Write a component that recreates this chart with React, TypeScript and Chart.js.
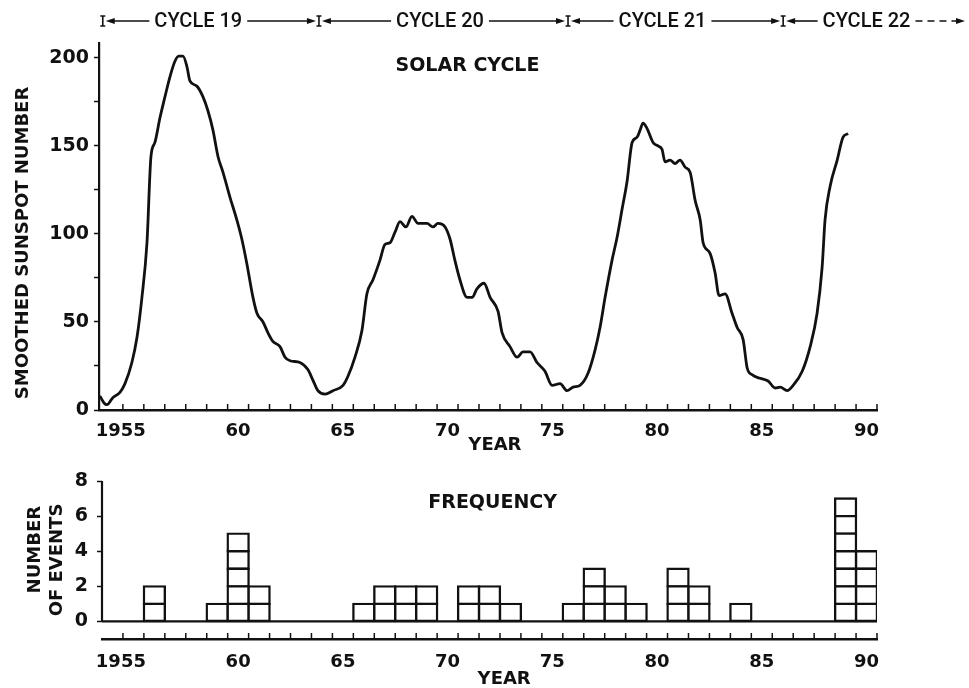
import React, { useEffect, useRef } from 'react';
import { Chart, registerables } from 'chart.js';

Chart.register(...registerables);

// ---------- DATA ----------
const sunspotYears = [
  1953.40, 1953.60, 1953.74, 1954.02, 1954.36, 1954.60, 1954.93, 1955.17, 1955.41, 1955.65,
  1955.84, 1956.03, 1956.27, 1956.51, 1956.74, 1956.98, 1957.17, 1957.37, 1957.56, 1957.70,
  1958.03, 1958.32, 1958.56, 1958.80, 1959.04, 1959.28, 1959.61, 1959.94, 1960.18, 1960.42,
  1960.71, 1960.90, 1961.19, 1961.42, 1961.66, 1962.00, 1962.24, 1962.48, 1962.95, 1963.33,
  1963.57, 1963.81, 1964.15, 1964.53, 1965.01, 1965.24, 1965.58, 1965.91, 1966.15, 1966.44,
  1966.77, 1967.01, 1967.25, 1967.49, 1967.73, 1968.01, 1968.30, 1968.59, 1969.02, 1969.30,
  1969.54, 1969.88, 1970.12, 1970.35, 1970.59, 1970.93, 1971.17, 1971.41, 1971.74, 1972.03,
  1972.41, 1972.60, 1972.98, 1973.32, 1973.60, 1973.94, 1974.27, 1974.65, 1974.99, 1975.37,
  1975.70, 1975.99, 1976.32, 1976.71, 1977.04, 1977.28, 1977.52, 1977.85, 1978.09, 1978.33,
  1978.57, 1978.81, 1979.05, 1979.19, 1979.33, 1979.52, 1979.81, 1980.05, 1980.24, 1980.38,
  1980.62, 1980.86, 1981.10, 1981.34, 1981.58, 1981.82, 1982.06, 1982.20, 1982.53, 1982.77,
  1982.96, 1983.25, 1983.58, 1983.82, 1984.11, 1984.30, 1984.54, 1984.92, 1985.30, 1985.64,
  1985.88, 1986.21, 1986.50, 1986.93, 1987.31, 1987.64, 1987.88, 1988.02, 1988.26, 1988.60,
  1988.88, 1989.12,
];
const sunspotValues = [
  8, 4, 3, 7, 10, 15, 27, 41, 64, 95,
  144, 152, 166, 178, 189, 198, 201, 201, 195, 187,
  184, 178, 170, 159, 144, 135, 121, 108, 97, 83,
  64, 55, 50, 44, 39, 36, 30, 28, 27, 23,
  17, 11, 9, 11, 14, 19, 30, 45, 66, 74,
  85, 94, 95, 101, 107, 104, 110, 106, 106, 104,
  106, 104, 97, 85, 74, 64, 64, 69, 72, 64,
  56, 44, 36, 30, 33, 33, 27, 22, 14, 15,
  11, 13, 14, 21, 34, 47, 64, 85, 98, 114,
  130, 152, 155, 159, 163, 160, 152, 150, 148, 141,
  142, 140, 142, 138, 135, 119, 108, 95, 89, 78,
  65, 66, 55, 47, 40, 24, 20, 18, 16.5, 12.5,
  13, 11, 14, 22, 36, 55, 81, 108, 127, 142,
  155, 157,
];

const eventYears = [1956, 1959, 1960, 1961, 1966, 1967, 1968, 1969, 1971, 1972, 1973,
  1976, 1977, 1978, 1979, 1981, 1982, 1984, 1989, 1990];
const eventCounts = [2, 1, 5, 2, 1, 2, 2, 2, 2, 2, 1,
  1, 3, 2, 1, 3, 2, 1, 7, 4];

const yearTicks = [1955, 1960, 1965, 1970, 1975, 1980, 1985, 1990];
const sunspotTicks = [0, 25, 50, 75, 100, 125, 150, 175, 200];
const sunspotLabelled = [0, 50, 100, 150, 200];
const eventTicks = [0, 2, 4, 6, 8];

const cycleNames = ['CYCLE 19', 'CYCLE 20', 'CYCLE 21', 'CYCLE 22'];
const cycleStartYears = [1953.54, 1963.86, 1975.75, 1986.02];
const cycleLabelYears = [1958.1, 1969.64, 1980.26, 1990.0];
const cycleEndYear = 1994.7;

const topTitle = 'SOLAR CYCLE';
const bottomTitle = 'FREQUENCY';
const xTitle = 'YEAR';
const topYTitle = 'SMOOTHED SUNSPOT NUMBER';
const bottomYTitle = ['NUMBER', 'OF EVENTS'];

// ---------- STYLE ----------
const INK = '#111';
const FONT = 'DejaVu Sans';
const firstMinorTick = 1954.5;

const yearLabel = (v: number) => (v === 1955 ? '1955    ' : String(v % 100));

function drawText(ctx: CanvasRenderingContext2D, s: string, x: number, y: number, font: string, rot = 0) {
  ctx.save();
  ctx.translate(x, y);
  if (rot) ctx.rotate(rot);
  ctx.font = font;
  ctx.fillStyle = INK;
  ctx.textAlign = 'center';
  ctx.textBaseline = 'middle';
  ctx.fillText(s, 0, 0);
  ctx.restore();
}

function drawMinorTicks(chart: any) {
  const { ctx, chartArea, scales } = chart;
  const x = scales.x;
  ctx.save();
  ctx.strokeStyle = INK;
  ctx.lineWidth = 1.5;
  for (let v = firstMinorTick; v <= x.max + 1e-6; v += 1) {
    const p = x.getPixelForValue(v);
    ctx.beginPath();
    ctx.moveTo(p, chartArea.bottom);
    ctx.lineTo(p, chartArea.bottom - 6);
    ctx.stroke();
  }
  ctx.restore();
}

function arrowLine(ctx: CanvasRenderingContext2D, from: number, to: number, y: number, dashed: boolean) {
  const dir = Math.sign(to - from) || 1;
  ctx.save();
  if (dashed) ctx.setLineDash([7, 5]);
  ctx.beginPath();
  ctx.moveTo(from, y);
  ctx.lineTo(to - dir * 6, y);
  ctx.stroke();
  ctx.restore();
  ctx.beginPath();
  ctx.moveTo(to, y);
  ctx.lineTo(to - dir * 9, y - 3);
  ctx.lineTo(to - dir * 9, y + 3);
  ctx.closePath();
  ctx.fill();
}

function drawHeader(chart: any) {
  const { ctx, chartArea, scales } = chart;
  const x = scales.x;
  const y = chartArea.top - 22;
  ctx.save();
  ctx.font = `500 20px Roboto`;
  ctx.strokeStyle = INK;
  ctx.fillStyle = INK;
  ctx.lineWidth = 1.6;
  cycleNames.forEach((name, i) => {
    const last = i === cycleNames.length - 1;
    const s = x.getPixelForValue(cycleStartYears[i]);
    const e = x.getPixelForValue(last ? cycleEndYear : cycleStartYears[i + 1]);
    const c = x.getPixelForValue(cycleLabelYears[i]);
    const w = ctx.measureText(name).width;
    // I-shaped boundary marker
    ctx.beginPath();
    ctx.moveTo(s, y - 5); ctx.lineTo(s, y + 5);
    ctx.moveTo(s - 2.5, y - 5); ctx.lineTo(s + 2.5, y - 5);
    ctx.moveTo(s - 2.5, y + 5); ctx.lineTo(s + 2.5, y + 5);
    ctx.stroke();
    arrowLine(ctx, c - w / 2 - 5, s + 3, y, false);
    arrowLine(ctx, c + w / 2 + 5, last ? e : e - 3, y, last);
    ctx.textAlign = 'center';
    ctx.textBaseline = 'middle';
    ctx.fillText(name, c, y + 1);
  });
  ctx.restore();
}

const topDecor = {
  id: 'topDecor',
  afterDraw(chart: any) {
    const { ctx, chartArea, scales } = chart;
    const { x, y } = scales;
    drawMinorTicks(chart);
    drawHeader(chart);
    drawText(ctx, topTitle, x.getPixelForValue(1970.95), y.getPixelForValue(195.5), `bold 19px "${FONT}"`);
    drawText(ctx, xTitle, x.getPixelForValue(1972.26), chartArea.bottom + 35, `bold 18px "${FONT}"`);
    drawText(ctx, topYTitle, chartArea.left - 75.5, y.getPixelForValue(94.9), `bold 18px "${FONT}"`, -Math.PI / 2);
  },
};

const bottomDecor = {
  id: 'bottomDecor',
  afterDraw(chart: any) {
    const { ctx, chartArea, scales } = chart;
    const { x, y } = scales;
    ctx.save();
    ctx.strokeStyle = INK;
    ctx.lineWidth = 2.2;
    const y0 = y.getPixelForValue(0);
    ctx.beginPath();
    ctx.moveTo(chartArea.left, y.getPixelForValue(eventTicks[eventTicks.length - 1]));
    ctx.lineTo(chartArea.left, y0);
    ctx.stroke();
    ctx.beginPath();
    ctx.moveTo(chartArea.left, y0);
    ctx.lineTo(chartArea.right, y0);
    ctx.stroke();
    ctx.restore();
    drawMinorTicks(chart);
    drawText(ctx, bottomTitle, x.getPixelForValue(1972.15), y.getPixelForValue(6.77), `bold 19px "${FONT}"`);
    drawText(ctx, xTitle, x.getPixelForValue(1972.7), chartArea.bottom + 40.5, `bold 18px "${FONT}"`);
    drawText(ctx, bottomYTitle[0], chartArea.left - 66.5, y.getPixelForValue(4.09), `bold 18px "${FONT}"`, -Math.PI / 2);
    drawText(ctx, bottomYTitle[1], chartArea.left - 44.5, y.getPixelForValue(3.5), `bold 18px "${FONT}"`, -Math.PI / 2);
  },
};

const tickFont = (size: number) => ({ family: FONT, size, weight: 'bold' as const });

function TopChart() {
  const ref = useRef<HTMLCanvasElement | null>(null);
  useEffect(() => {
    if (!ref.current) return;
    const chart = new Chart(ref.current, {
      type: 'line',
      data: {
        datasets: [{
          data: sunspotYears.map((x, i) => ({ x, y: sunspotValues[i] })),
          borderColor: INK,
          borderWidth: 2.8,
          pointRadius: 0,
          fill: false,
          cubicInterpolationMode: 'monotone',
        }],
      },
      options: {
        animation: false,
        responsive: false,
        events: [],
        layout: { padding: { top: 43, right: 92, left: 0, bottom: 0 } },
        plugins: { legend: { display: false }, tooltip: { enabled: false } },
        scales: {
          x: {
            type: 'linear',
            min: 1953.36,
            max: 1990.5,
            offset: false,
            afterBuildTicks: (s: any) => { s.ticks = yearTicks.map((value) => ({ value })); },
            afterFit: (s: any) => { s.height = 50; },
            ticks: { callback: (v: any) => yearLabel(Number(v)), font: tickFont(18), color: INK, padding: 3, maxRotation: 0, autoSkip: false },
            grid: { display: false },
            border: { display: true, color: INK, width: 2.5 },
          },
          y: {
            type: 'linear',
            min: 0,
            max: 208.5,
            afterBuildTicks: (s: any) => { s.ticks = sunspotTicks.map((value) => ({ value })); },
            afterFit: (s: any) => { s.width = 99; },
            ticks: {
              callback: (v: any) => (sunspotLabelled.includes(Number(v)) ? String(v) : ''),
              font: tickFont(19), color: INK, padding: 5, autoSkip: false,
            },
            grid: { display: true, drawOnChartArea: false, drawTicks: true, tickLength: 5, tickWidth: 1.5, tickColor: INK },
            border: { display: true, color: INK, width: 2.2 },
          },
        },
      } as any,
      plugins: [topDecor],
    });
    return () => chart.destroy();
  }, []);
  return <canvas ref={ref} width={969} height={460} style={{ position: 'absolute', left: 0, top: 0 }} />;
}

function BottomChart() {
  const ref = useRef<HTMLCanvasElement | null>(null);
  useEffect(() => {
    if (!ref.current) return;
    const levels = Math.max(...eventCounts);
    const datasets = [];
    for (let k = 1; k <= levels; k++) {
      datasets.push({
        data: eventYears.filter((_, i) => eventCounts[i] >= k).map((x) => ({ x, y: 1 })),
        backgroundColor: '#fff',
        borderColor: INK,
        borderWidth: 2.4,
        inflateAmount: 1.2,
        borderSkipped: false,
        categoryPercentage: 1,
        barPercentage: 1,
        stack: 'events',
      });
    }
    const chart = new Chart(ref.current, {
      type: 'bar',
      data: { datasets },
      options: {
        animation: false,
        responsive: false,
        events: [],
        layout: { padding: { top: 21, right: 92, left: 0, bottom: 0 } },
        plugins: { legend: { display: false }, tooltip: { enabled: false } },
        scales: {
          x: {
            type: 'linear',
            min: 1953.5,
            max: 1990.5,
            offset: false,
            stacked: true,
            afterBuildTicks: (s: any) => { s.ticks = yearTicks.map((value) => ({ value })); },
            afterFit: (s: any) => { s.height = 49; },
            ticks: { callback: (v: any) => yearLabel(Number(v)), font: tickFont(18), color: INK, padding: 5, maxRotation: 0, autoSkip: false },
            grid: { display: false, offset: false },
            border: { display: true, color: INK, width: 2.5 },
          },
          y: {
            type: 'linear',
            min: -1,
            max: 8,
            stacked: true,
            afterBuildTicks: (s: any) => { s.ticks = eventTicks.map((value) => ({ value })); },
            afterFit: (s: any) => { s.width = 102; },
            ticks: { font: tickFont(19), color: INK, padding: 9, autoSkip: false },
            grid: { display: true, drawOnChartArea: false, drawTicks: true, tickLength: 5, tickWidth: 1.5, tickColor: INK },
            border: { display: false },
          },
        },
      } as any,
      plugins: [bottomDecor],
    });
    return () => chart.destroy();
  }, []);
  return <canvas ref={ref} width={969} height={228} style={{ position: 'absolute', left: 0, top: 460 }} />;
}

export default function App() {
  return (
    <div style={{ position: 'absolute', left: 0, top: 0, width: 969, height: 688, background: '#fff' }}>
      <TopChart />
      <BottomChart />
    </div>
  );
}
